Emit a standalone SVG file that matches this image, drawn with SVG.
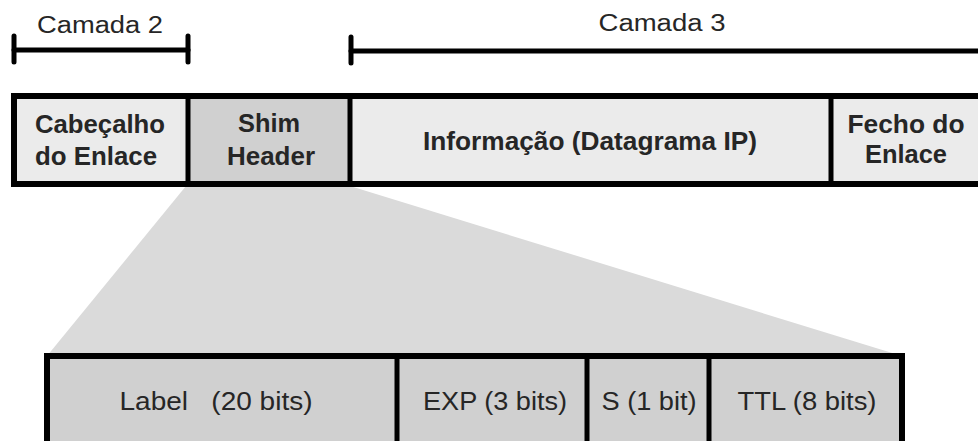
<svg xmlns="http://www.w3.org/2000/svg" width="978" height="441" viewBox="0 0 978 441">
<style>
  .t { font-family: "Liberation Sans", Arial, sans-serif; fill: #262626; text-anchor: middle; }
  .hdr { font-size: 25px; font-weight: bold; }
  .cam { font-size: 23px; }
  .fld { font-size: 26px; white-space: pre; }
  .br { stroke: #000; stroke-width: 5; stroke-linecap: round; }
  .cellL { fill: #ebebeb; stroke: none; }
  .cellD { fill: #d0d0d0; stroke: none; }
  .bd { stroke: #000; stroke-width: 6; fill: none; }
  .dv { stroke: #000; stroke-width: 5; }
</style>
<rect width="978" height="441" fill="#ffffff"/>

<g id="expansion">
  <polygon points="186,186 350,186 902,356 47,356" fill="#dadada"/>
</g>

<g id="camada2">
  <line class="br" x1="14" y1="50" x2="188" y2="50"/>
  <line class="br" x1="14" y1="36" x2="14" y2="62"/>
  <line class="br" x1="188" y1="36" x2="188" y2="62"/>
  <text class="t cam" x="100" y="33" textLength="126" lengthAdjust="spacingAndGlyphs">Camada 2</text>
</g>

<g id="camada3">
  <line class="br" x1="351" y1="51" x2="985" y2="51"/>
  <line class="br" x1="351" y1="37" x2="351" y2="63"/>
  <text class="t cam" x="662" y="31" textLength="127" lengthAdjust="spacingAndGlyphs">Camada 3</text>
</g>

<g id="frame">
  <rect class="cellL" x="14" y="96" width="174" height="88"/>
  <rect class="cellD" x="188" y="96" width="162" height="88"/>
  <rect class="cellL" x="350" y="96" width="481" height="88"/>
  <rect class="cellL" x="831" y="96" width="160" height="88"/>
  <path class="bd" d="M985,96 H14 V184 H985"/>
  <line class="dv" x1="188" y1="96" x2="188" y2="184"/>
  <line class="dv" x1="350" y1="96" x2="350" y2="184"/>
  <line class="dv" x1="831" y1="96" x2="831" y2="184"/>
</g>

<g id="cabecalho">
  <text class="t hdr" x="100" y="133" textLength="130" lengthAdjust="spacingAndGlyphs">Cabeçalho</text>
  <text class="t hdr" x="96" y="165" textLength="122" lengthAdjust="spacingAndGlyphs">do Enlace</text>
</g>
<g id="shim">
  <text class="t hdr" x="269" y="132" textLength="62" lengthAdjust="spacingAndGlyphs">Shim</text>
  <text class="t hdr" x="271" y="165" textLength="88" lengthAdjust="spacingAndGlyphs">Header</text>
</g>
<g id="informacao">
  <text class="t hdr" x="590" y="150" textLength="334" lengthAdjust="spacingAndGlyphs">Informação (Datagrama IP)</text>
</g>
<g id="fecho">
  <text class="t hdr" x="906" y="133" textLength="117" lengthAdjust="spacingAndGlyphs">Fecho do</text>
  <text class="t hdr" x="906" y="163" textLength="82" lengthAdjust="spacingAndGlyphs">Enlace</text>
</g>

<g id="shim-fields">
  <rect class="cellD" x="47" y="356" width="855" height="95"/>
  <path class="bd" d="M47,450 V356 H902 V450"/>
  <line class="dv" x1="397" y1="356" x2="397" y2="450"/>
  <line class="dv" x1="587" y1="356" x2="587" y2="450"/>
  <line class="dv" x1="709" y1="356" x2="709" y2="450"/>
</g>
<g id="label-field">
  <text class="t fld" x="216" y="410" textLength="193" lengthAdjust="spacingAndGlyphs">Label   (20 bits)</text>
</g>
<g id="exp-field">
  <text class="t fld" x="495" y="410" textLength="144" lengthAdjust="spacingAndGlyphs">EXP (3 bits)</text>
</g>
<g id="s-field">
  <text class="t fld" x="649" y="410" textLength="95" lengthAdjust="spacingAndGlyphs">S (1 bit)</text>
</g>
<g id="ttl-field">
  <text class="t fld" x="807" y="410" textLength="139" lengthAdjust="spacingAndGlyphs">TTL (8 bits)</text>
</g>
</svg>
